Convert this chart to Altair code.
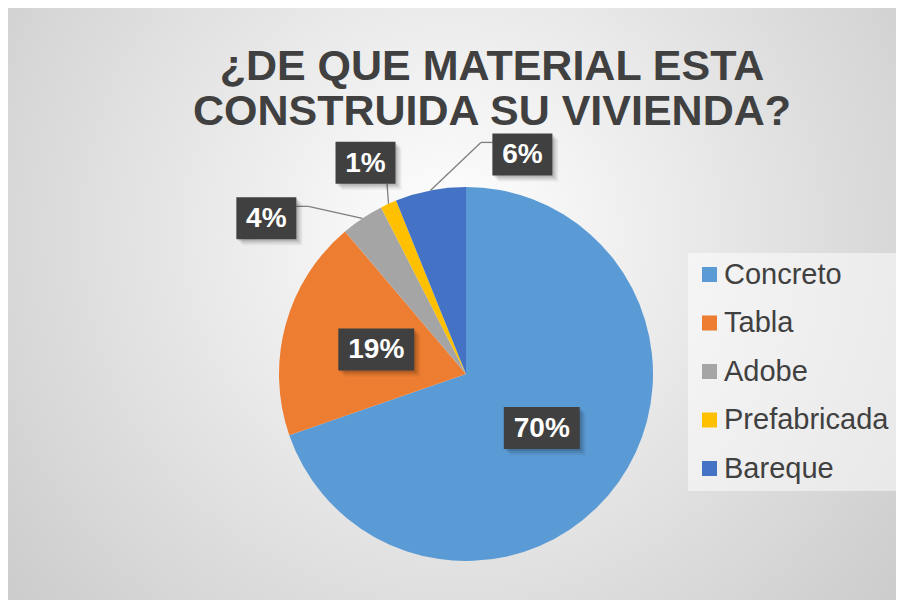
import altair as alt
import pandas as pd

# ---- data ----
categories = ["Concreto", "Tabla", "Adobe", "Prefabricada", "Bareque"]
values = [69.7, 19.1, 3.7, 1.4, 6.1]
colors = ["#5B9BD5", "#ED7D31", "#A5A5A5", "#FFC000", "#4472C4"]
title_lines = ["¿DE QUE MATERIAL ESTA", "CONSTRUIDA SU VIVIENDA?"]

# ---- layout / style ----
W, H = 888, 592
CX, CY, R = 458, 366, 187
FONT = "Liberation Sans"
# Excel-style data label placement:
# (anchor radius, dx, dy, leader attach dx, attach dy, elbow dx, outside)
label_layout = {
    "Concreto": (93, 0, 0, 0, 0, 0, False),
    "Tabla": (93, 0, 0, 0, 0, 0, False),
    "Adobe": (187, -96, 0, 30, -12, 12, True),
    "Prefabricada": (187, -23, -41, 21.5, 21, 0, True),
    "Bareque": (187, 92, -36, -29.5, -12, -12, True),
}

df = pd.DataFrame({
    "category": categories,
    "value": values,
    "order": list(range(len(categories))),
})
for i, key in enumerate(["lr", "ldx", "ldy", "adx", "ady", "edx", "outside"]):
    df[key] = [label_layout[c][i] for c in categories]

base = (
    alt.Chart(df)
    .transform_joinaggregate(total="sum(value)")
    .transform_window(cum="sum(value)", sort=[alt.SortField("order")], frame=[None, 0])
    .transform_calculate(
        mid="(datum.cum - datum.value / 2) / datum.total * 2 * PI",
        label="format(datum.value / datum.total, '.0%')",
    )
    .transform_calculate(
        ex=f"{CX} + {R} * sin(datum.mid)",
        ey=f"{CY} - {R} * cos(datum.mid)",
        lx=f"{CX} + datum.lr * sin(datum.mid) + datum.ldx",
        ly=f"{CY} - datum.lr * cos(datum.mid) + datum.ldy",
        bw="length(datum.label) > 2 ? 76 : 60",
    )
    .transform_calculate(
        ax="datum.lx + datum.adx",
        ay="datum.ly + datum.ady",
        bx1="datum.lx - datum.bw / 2",
        bx2="datum.lx + datum.bw / 2",
        by1="datum.ly - 21",
        by2="datum.ly + 21",
    )
    .transform_calculate(elx="datum.ax + datum.edx")
)

one = pd.DataFrame({"t": [0]})

background = alt.Chart(one).mark_rect(
    fill={
        "gradient": "radial",
        "x1": 0.5, "y1": 0.42, "r1": 0,
        "x2": 0.5, "y2": 0.42, "r2": 0.72,
        "stops": [
            {"offset": 0, "color": "#ffffff"},
            {"offset": 1, "color": "#c6c6c6"},
        ],
    }
).encode(x=alt.value(0), x2=alt.value(W), y=alt.value(0), y2=alt.value(H))

pie = alt.Chart(df).mark_arc(outerRadius=R).encode(
    theta=alt.Theta("value:Q", stack=True),
    order=alt.Order("order:Q"),
    color=alt.Color(
        "category:N",
        scale=alt.Scale(domain=categories, range=colors),
        legend=alt.Legend(
            title=None,
            orient="none",
            legendX=680,
            legendY=245,
            symbolType="square",
            symbolSize=225,
            symbolStrokeWidth=0,
            symbolOpacity=1,
            labelFont=FONT,
            labelFontSize=29,
            labelColor="#404040",
            labelOffset=0,
            labelLimit=400,
            rowPadding=18.5,
            padding=7,
            fillColor="rgba(255,255,255,0.5)",
        ),
    ),
    x=alt.value(CX),
    y=alt.value(CY),
)

outer = base.transform_filter("datum.outside")
leader1 = outer.mark_rule(color="#7f7f7f", strokeWidth=1.3).encode(
    x=alt.X("ex:Q", scale=None), y=alt.Y("ey:Q", scale=None),
    x2="elx:Q", y2="ay:Q",
)
leader2 = outer.mark_rule(color="#7f7f7f", strokeWidth=1.3).encode(
    x=alt.X("elx:Q", scale=None), y=alt.Y("ay:Q", scale=None),
    x2="ax:Q", y2="ay:Q",
)

shadows = []
for off, op in [(2, 0.12), (4, 0.09), (6, 0.06)]:
    shadows.append(
        base.transform_calculate(
            sx1=f"datum.bx1 + {off}", sx2=f"datum.bx2 + {off}",
            sy1=f"datum.by1 + {off}", sy2=f"datum.by2 + {off}",
        ).mark_rect(fill="black", opacity=op).encode(
            x=alt.X("sx1:Q", scale=None), x2="sx2:Q",
            y=alt.Y("sy1:Q", scale=None), y2="sy2:Q",
        )
    )

boxes = base.mark_rect(fill="#404040").encode(
    x=alt.X("bx1:Q", scale=None), x2="bx2:Q",
    y=alt.Y("by1:Q", scale=None), y2="by2:Q",
)

labels = base.mark_text(
    font=FONT, fontSize=28, fontWeight="bold", color="white",
    align="center", baseline="middle", dy=1,
).encode(
    x=alt.X("lx:Q", scale=None), y=alt.Y("ly:Q", scale=None), text="label:N"
)

title = alt.Chart(one).mark_text(
    font=FONT, fontSize=43, fontWeight="bold", color="#404040",
    align="center", baseline="alphabetic", lineHeight=45,
).encode(x=alt.value(484), y=alt.value(72), text=alt.value(title_lines))

chart = alt.layer(
    background, pie, leader1, leader2, *shadows, boxes, labels, title
).properties(
    width=W, height=H, padding=0,
    autosize=alt.AutoSizeParams(type="none"),
).configure_view(stroke="transparent")

chart.save("out.html", embed_options={"renderer": "svg", "actions": False})
